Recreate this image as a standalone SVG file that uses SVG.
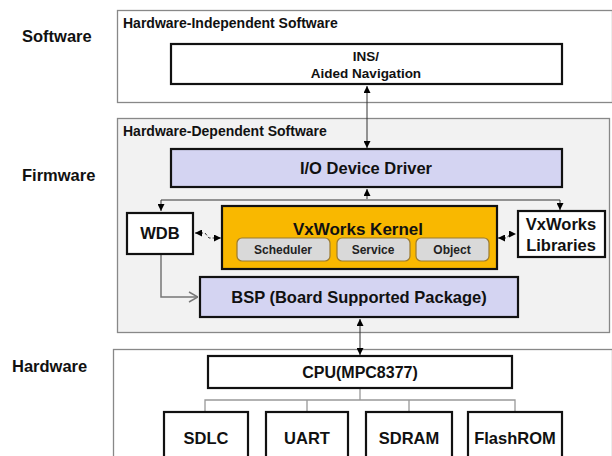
<svg xmlns="http://www.w3.org/2000/svg" width="612" height="456" viewBox="0 0 612 456">
<defs>
<marker id="ah" viewBox="0 0 10 10" refX="10" refY="5" markerWidth="7" markerHeight="7" orient="auto-start-reverse" markerUnits="userSpaceOnUse">
<path d="M0,0 L10,5 L0,10 z" fill="#000"/>
</marker>
<marker id="open" viewBox="0 0 10 10" refX="10" refY="5" markerWidth="10" markerHeight="12" orient="auto" markerUnits="userSpaceOnUse">
<path d="M1,0 L10,5 L1,10" fill="none" stroke="#777" stroke-width="1.5"/>
</marker>
</defs>
<style>
text{font-family:"Liberation Sans","Noto Sans",Arial,sans-serif;fill:#111;}
.lbl{font-size:16.5px;font-weight:bold;}
.ttl{font-size:14px;font-weight:bold;}
.big{font-size:16.5px;font-weight:bold;text-anchor:middle;}
.sub{font-size:12px;font-weight:bold;text-anchor:middle;fill:#222;}
.mid{text-anchor:middle;}
.layer{stroke:#888;stroke-width:1.3;}
.node{stroke:#111;stroke-width:2.2;}
.lav{fill:#d4d4f2;}
.conn{stroke:#333;stroke-width:1;fill:none;}
</style>
<g id="side-labels">
<text class="lbl" x="22" y="42">Software</text>
<text class="lbl" x="22" y="181">Firmware</text>
<text class="lbl" x="12" y="372">Hardware</text>
</g>
<g id="layer-software">
<rect class="layer" x="117.5" y="10.5" width="495" height="92" fill="#fff"/>
<text class="ttl" x="123" y="28">Hardware-Independent Software</text>
</g>
<g id="layer-firmware">
<rect class="layer" x="117.5" y="118.5" width="492" height="214" fill="#f2f2f2"/>
<text class="ttl" x="123" y="136">Hardware-Dependent Software</text>
</g>
<g id="layer-hardware">
<rect class="layer" x="113.5" y="349.5" width="499" height="110" fill="#fff"/>
</g>
<g id="connectors">
<line class="conn" x1="367" y1="86" x2="367" y2="148" marker-start="url(#ah)" marker-end="url(#ah)"/>
<path class="conn" d="M367,199 V189" marker-end="url(#ah)"/>
<path class="conn" d="M161,211 V200 H560 V210" marker-start="url(#ah)" marker-end="url(#ah)"/>
<path class="conn" d="M195,233 H205 L209,238 H221" stroke-dasharray="3,2" marker-start="url(#ah)" marker-end="url(#ah)"/>
<path class="conn" d="M498,238 H507 L510,234 H516" stroke-dasharray="3,2" marker-start="url(#ah)" marker-end="url(#ah)"/>
<path d="M161,255 V297 H198" fill="none" stroke="#777" stroke-width="1.5" marker-end="url(#open)"/>
<line class="conn" x1="360" y1="319" x2="360" y2="355" marker-start="url(#ah)" marker-end="url(#ah)"/>
<path d="M360,389 V400 M205,412 V400 H515 V412 M307,400 V412 M409,400 V412" fill="none" stroke="#999" stroke-width="1.3"/>
</g>
<g id="ins">
<rect class="node" x="171" y="44" width="391" height="40" fill="#fff"/>
<text class="mid" x="366" y="61" font-size="13.5" font-weight="bold">INS/</text>
<text class="mid" x="366" y="78" font-size="13.5" font-weight="bold">Aided Navigation</text>
</g>
<g id="io-driver">
<rect class="node lav" x="171" y="149" width="391" height="38"/>
<text class="big" x="366" y="174">I/O Device Driver</text>
</g>
<g id="wdb">
<rect class="node" x="127" y="213" width="66" height="41" fill="#fff"/>
<text class="big" x="160" y="239">WDB</text>
</g>
<g id="kernel">
<rect class="node" x="222" y="206" width="275" height="63" fill="#f9b800"/>
<text class="mid" x="358" y="235" font-size="17" font-weight="bold">VxWorks Kernel</text>
<rect x="237" y="238" width="93" height="23" rx="5" fill="#d9d9d9" stroke="#9a7a30" stroke-width="1.2"/>
<text class="sub" x="283" y="254">Scheduler</text>
<rect x="337" y="238" width="73" height="23" rx="5" fill="#d9d9d9" stroke="#9a7a30" stroke-width="1.2"/>
<text class="sub" x="373" y="254">Service</text>
<rect x="416" y="238" width="73" height="23" rx="5" fill="#d9d9d9" stroke="#9a7a30" stroke-width="1.2"/>
<text class="sub" x="452" y="254">Object</text>
</g>
<g id="libraries">
<rect class="node" x="518" y="211" width="87" height="46" fill="#fff"/>
<text class="big" x="561" y="230">VxWorks</text>
<text class="big" x="561" y="251">Libraries</text>
</g>
<g id="bsp">
<rect class="node lav" x="200" y="277" width="318" height="40"/>
<text class="big" x="359" y="303">BSP (Board Supported Package)</text>
</g>
<g id="cpu">
<rect class="node" x="208" y="356" width="304" height="32" fill="#fff"/>
<text class="mid" x="360" y="378" font-size="16" font-weight="bold">CPU(MPC8377)</text>
</g>
<g id="sdlc">
<rect class="node" x="164" y="412" width="84" height="50" fill="#fff"/>
<text class="big" x="206" y="444">SDLC</text>
</g>
<g id="uart">
<rect class="node" x="266" y="412" width="82" height="50" fill="#fff"/>
<text class="big" x="307" y="444">UART</text>
</g>
<g id="sdram">
<rect class="node" x="366" y="412" width="86" height="50" fill="#fff"/>
<text class="big" x="409" y="444">SDRAM</text>
</g>
<g id="flashrom">
<rect class="node" x="468" y="412" width="94" height="50" fill="#fff"/>
<text class="big" x="515" y="444">FlashROM</text>
</g>
</svg>
